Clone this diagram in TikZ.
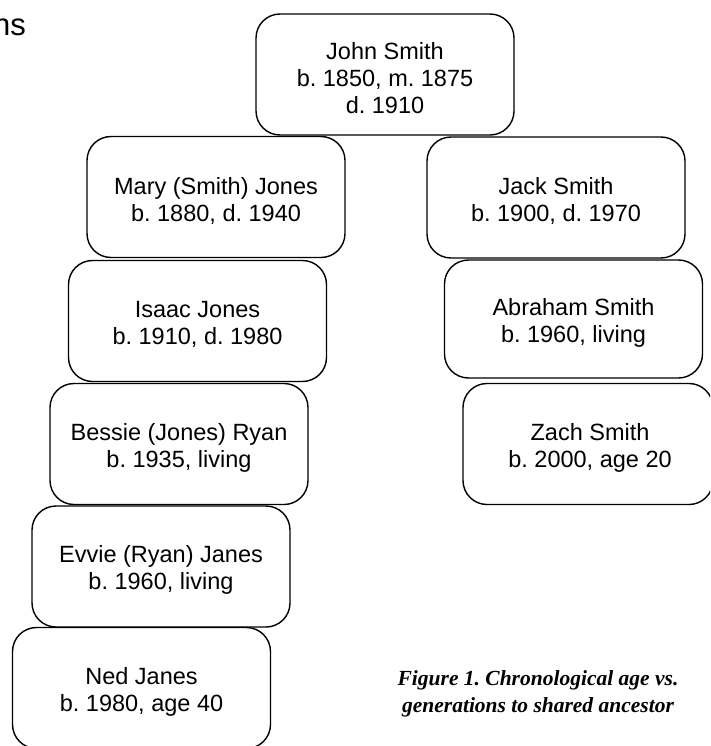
\documentclass[tikz,border=0pt]{standalone}
\usepackage{fontspec}
\setmainfont{Liberation Sans}
\newfontfamily\capfont{Liberation Serif}
\frenchspacing
\begin{document}
\begin{tikzpicture}[x=1pt,y=-1pt,
  person/.style={draw=black, line width=1.4pt, rounded corners=24pt, fill=white,
    minimum width=258pt, minimum height=121pt, inner sep=0pt},
  ptext/.style={align=center, inner sep=0pt, font=\fontsize{23.5}{27}\selectfont},
  caption/.style={align=center, inner sep=0pt, font=\capfont\bfseries\itshape\fontsize{21.5}{27}\selectfont},
  titletext/.style={inner sep=0pt, font=\fontsize{31}{36}\selectfont}
]
\useasboundingbox (0,0) rectangle (710,746);
\begin{scope}
\clip (0,0) rectangle (710,746);
\node[titletext, anchor=base east] (title) at (26,36) {ns};
\node[person] (john) at (385,74.5) {};
\node[ptext] (johnt) at ([yshift=-3.5pt]john.center) {John Smith\\b. 1850, m. 1875\\d. 1910};
\node[person] (mary) at (216,197) {};
\node[ptext] (maryt) at ([yshift=-3.5pt]mary.center) {Mary (Smith) Jones\\b. 1880, d. 1940};
\node[person] (jack) at (556,197.5) {};
\node[ptext] (jackt) at ([yshift=-3.5pt]jack.center) {Jack Smith\\b. 1900, d. 1970};
\node[person] (isaac) at (197.5,321) {};
\node[ptext] (isaact) at ([yshift=-3.5pt]isaac.center) {Isaac Jones\\b. 1910, d. 1980};
\node[person, minimum height=118pt] (abraham) at (573.5,319) {};
\node[ptext] (abrahamt) at ([yshift=-3.5pt]abraham.center) {Abraham Smith\\b. 1960, living};
\node[person] (bessie) at (179,444) {};
\node[ptext] (bessiet) at ([yshift=-3.5pt]bessie.center) {Bessie (Jones) Ryan\\b. 1935, living};
\node[person, minimum width=250pt] (zach) at (588,444) {};
\node[ptext] (zacht) at ([yshift=-3.5pt,xshift=2pt]zach.center) {Zach Smith\\b. 2000, age 20};
\node[person] (evvie) at (161,566.5) {};
\node[ptext] (evviet) at ([yshift=-3.5pt]evvie.center) {Evvie (Ryan) Janes\\b. 1960, living};
\node[person] (ned) at (141.5,688) {};
\node[ptext] (nedt) at ([yshift=-3.5pt]ned.center) {Ned Janes\\b. 1980, age 40};
\node[caption] (cap) at (538,694) {Figure 1. Chronological age vs.\\generations to shared ancestor};
\end{scope}
\end{tikzpicture}
\end{document}
